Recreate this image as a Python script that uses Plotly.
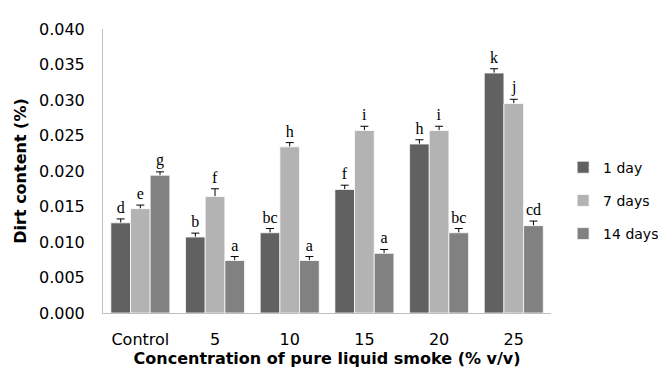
import plotly.graph_objects as go

categories = ["Control", "5", "10", "15", "20", "25"]
series_names = ["1 day", "7 days", "14 days"]
day1 = [0.0127, 0.0107, 0.0113, 0.0174, 0.0238, 0.0338]
day7 = [0.0147, 0.0164, 0.0234, 0.0257, 0.0257, 0.0295]
day14 = [0.0194, 0.0074, 0.0074, 0.0084, 0.0113, 0.0123]
err1 = [0.00055, 0.00055, 0.0006, 0.0006, 0.0006, 0.0006]
err7 = [0.0005, 0.0011, 0.0006, 0.0006, 0.0006, 0.0006]
err14 = [0.00048, 0.00055, 0.00055, 0.00055, 0.0006, 0.00065]
letters1 = ["d", "b", "bc", "f", "h", "k"]
letters7 = ["e", "f", "h", "i", "i", "j"]
letters14 = ["g", "a", "a", "a", "bc", "cd"]
y_ticks = [0.0, 0.005, 0.010, 0.015, 0.020, 0.025, 0.030, 0.035, 0.040]

colors = ["#616161", "#b3b3b3", "#818181"]
sans = "DejaVu Sans"
serif = "Liberation Serif"

fig = go.Figure()
data = [(day1, err1, letters1), (day7, err7, letters7), (day14, err14, letters14)]

# error whiskers (drawn first so the bars hide the lower part of the stem)
for k, (vals, errs, lets) in enumerate(data):
    fig.add_trace(go.Bar(
        x=categories, y=vals, offsetgroup=str(k), showlegend=False, hoverinfo="skip",
        marker=dict(color="rgba(0,0,0,0)", line=dict(width=0)),
        error_y=dict(type="data", array=errs, arrayminus=vals, symmetric=False,
                     color="black", thickness=1, width=4),
    ))
# main bars
for k, (vals, errs, lets) in enumerate(data):
    fig.add_trace(go.Bar(
        x=categories, y=vals, name=series_names[k], offsetgroup=str(k),
        legendgroup=str(k),
        marker=dict(color=colors[k], line=dict(color="rgba(255,255,255,0.75)", width=1)),
    ))
# significance letters above the whiskers
for k, (vals, errs, lets) in enumerate(data):
    fig.add_trace(go.Bar(
        x=categories, y=[1e-7] * len(vals), base=[v + e for v, e in zip(vals, errs)],
        offsetgroup=str(k), showlegend=False, hoverinfo="skip",
        marker=dict(color="rgba(0,0,0,0)", line=dict(width=0)),
        text=lets, textposition="outside", cliponaxis=False,
        textfont=dict(family=serif, size=16, color="black"),
    ))

fig.update_layout(
    width=666, height=374,
    margin=dict(l=92, r=113, t=18, b=69),
    paper_bgcolor="white", plot_bgcolor="white",
    barmode="group", bargap=0.21, bargroupgap=0,
    font=dict(family=sans, size=16, color="black"),
    showlegend=True,
    legend=dict(xref="container", yref="container", x=0.8335, y=0.485,
                xanchor="left", yanchor="middle",
                font=dict(family=sans, size=14, color="black"),
                traceorder="grouped", tracegroupgap=12, itemwidth=30),
)
fig.update_xaxes(
    showline=True, linecolor="#bfbfbf", linewidth=1,
    ticks="outside", ticklen=12, tickcolor="rgba(0,0,0,0)",
    tickfont=dict(family=sans, size=16, color="black"),
    title=dict(text="<b>Concentration of pure liquid smoke (% v/v)</b>",
               font=dict(family=sans, size=16, color="black"), standoff=4),
)
fig.update_yaxes(
    range=[0, 0.040], tickvals=y_ticks, tickformat=".3f",
    showgrid=False, zeroline=False,
    showline=True, linecolor="#bfbfbf", linewidth=1,
    ticks="outside", ticklen=14, tickcolor="rgba(0,0,0,0)",
    tickfont=dict(family=sans, size=16, color="black"),
    title=dict(text="<b>Dirt content (%)</b>",
               font=dict(family=sans, size=16, color="black"), standoff=8),
)

fig.write_html("out.html")
